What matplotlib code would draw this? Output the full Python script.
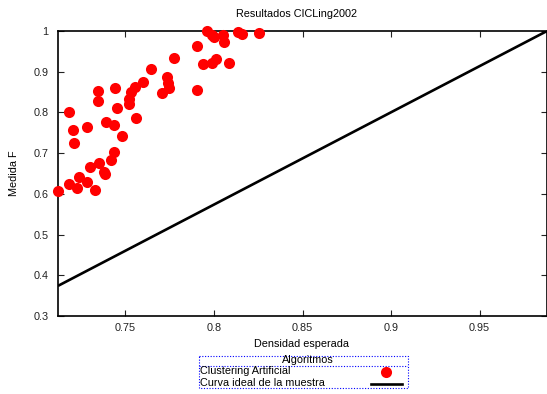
import numpy as np
import matplotlib
matplotlib.use('Agg')
import matplotlib.pyplot as plt
from matplotlib.patches import Rectangle
from matplotlib.ticker import FormatStrFormatter

plt.rcParams['font.family'] = ['Liberation Sans', 'DejaVu Sans']

# Clustering Artificial: densidad esperada vs medida F
dens = [0.7122, 0.7182, 0.7207, 0.7212, 0.7184, 0.7226, 0.7241, 0.7282,
        0.7303, 0.7286, 0.7329, 0.7352, 0.7382, 0.7385, 0.7419, 0.7438,
        0.7389, 0.7438, 0.7480, 0.7453, 0.7344, 0.7344, 0.7442, 0.7523,
        0.7523, 0.7530, 0.7555, 0.7559, 0.7601, 0.7643, 0.7707, 0.7734,
        0.7743, 0.7748, 0.7776, 0.7906, 0.7906, 0.7937, 0.7987, 0.8012,
        0.8085, 0.7962, 0.7987, 0.7998, 0.8053, 0.8058, 0.8134, 0.8157,
        0.8254]
medf = [0.608, 0.800, 0.757, 0.724, 0.6236, 0.614, 0.641, 0.629,
        0.667, 0.764, 0.610, 0.677, 0.6545, 0.649, 0.683, 0.704,
        0.777, 0.769, 0.743, 0.810, 0.8275, 0.8535, 0.860, 0.8325,
        0.821, 0.851, 0.8635, 0.787, 0.8757, 0.906, 0.8487, 0.8865,
        0.872, 0.8595, 0.933, 0.964, 0.8553, 0.919, 0.9224, 0.931,
        0.9209, 1.0, 0.990, 0.985, 0.990, 0.9725, 0.9985, 0.992,
        0.9946]

# Curva ideal de la muestra
ideal_x = [0.712, 0.988]
ideal_y = [0.374, 1.0]

xticks = [0.75, 0.8, 0.85, 0.9, 0.95]
yticks = [0.3, 0.4, 0.5, 0.6, 0.7, 0.8, 0.9, 1.0]

FS = 7.8
W, H = 547.0, 394.0
fig = plt.figure(figsize=(W / 100, H / 100), dpi=100)
ax = fig.add_axes([58 / W, (H - 316) / H, (W - 58) / W, 285 / H])

ax.plot(ideal_x, ideal_y, color='black', linewidth=1.9, solid_capstyle='butt')
ax.plot(dens, medf, 'o', color='#ff0000', markersize=8, markeredgewidth=0,
        clip_on=False, zorder=3)

ax.set_xlim(0.712, 0.988)
ax.set_ylim(0.3, 1.0)
ax.set_xticks(xticks)
ax.set_yticks(yticks)
ax.xaxis.set_major_formatter(FormatStrFormatter('%g'))
ax.yaxis.set_major_formatter(FormatStrFormatter('%g'))
ax.tick_params(direction='in', length=4, width=0.8, top=True, right=True,
               labelsize=FS, colors='#222222')
ax.tick_params(axis='y', pad=7)
ax.tick_params(axis='x', pad=5)
for s in ax.spines.values():
    s.set_linewidth(1.2)

fig.text(296 / W, 1 - 14 / H, 'Resultados CICLing2002', ha='center', va='center', fontsize=FS)
fig.text(302 / W, 1 - 344 / H, 'Densidad esperada', ha='center', va='center', fontsize=FS)
fig.text(14 / W, 1 - 173 / H, 'Medida F', ha='center', va='center', rotation=90, fontsize=FS)

# legend box, drawn in pixel units
lx0, lx1, ly0, ly1 = 199, 408, 356, 388
lax = fig.add_axes([lx0 / W, (H - ly1) / H, (lx1 - lx0) / W, (ly1 - ly0) / H])
lax.set_xlim(0, lx1 - lx0)
lax.set_ylim(ly1 - ly0, 0)
lax.axis('off')
lax.add_patch(Rectangle((0, 0), lx1 - lx0, ly1 - ly0, fill=False, edgecolor='blue',
                        linestyle=(0, (1, 1.5)), linewidth=0.8, clip_on=False))
lax.plot([0, lx1 - lx0], [9.7, 9.7], color='blue', linestyle=(0, (1, 1.5)), linewidth=0.8)
lax.text((lx1 - lx0) / 2 + 4, 4.3, 'Algoritmos', ha='center', va='center', fontsize=FS)
lax.text(0.5, 15.5, 'Clustering Artificial', ha='left', va='center', fontsize=FS)
lax.text(0.5, 26.5, 'Curva ideal de la muestra', ha='left', va='center', fontsize=FS)
lax.plot([386 - lx0], [16], 'o', color='#ff0000', markersize=8, markeredgewidth=0)
lax.plot([371 - lx0, 402 - lx0], [28, 28], color='black', linewidth=1.9)

fig.savefig('out.png', dpi=100)
